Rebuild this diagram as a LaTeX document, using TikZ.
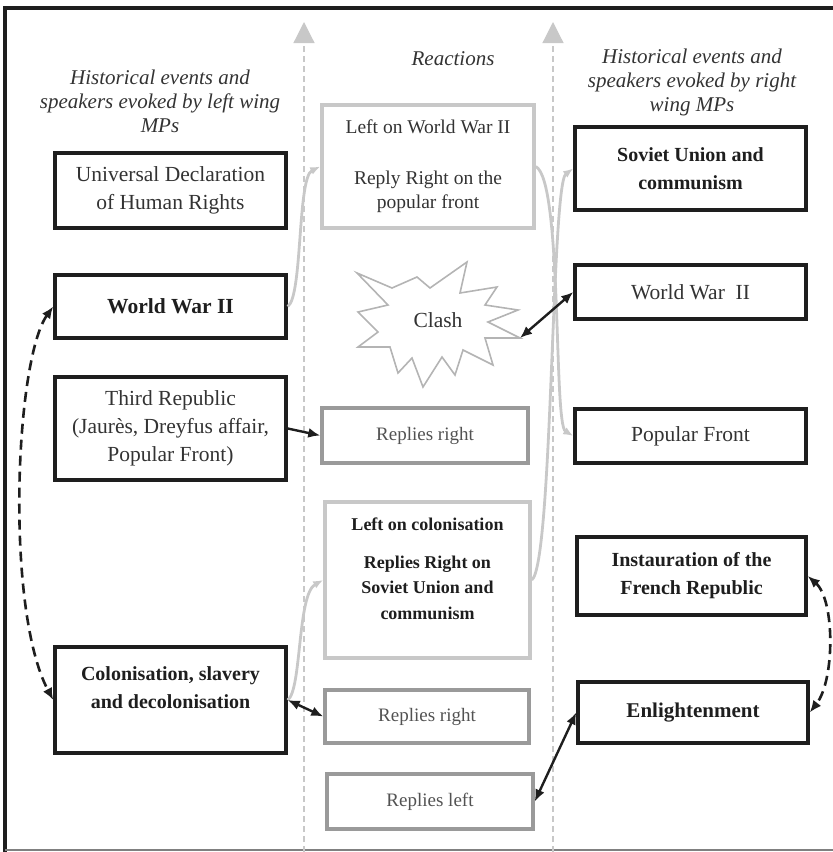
\documentclass[tikz,border=0pt]{standalone}
\usepackage{fontspec}
\setmainfont{Liberation Serif}
\usetikzlibrary{arrows.meta}
\definecolor{ink}{HTML}{1E1E1E}
\definecolor{paleline}{HTML}{C8C8C8}
\definecolor{midline}{HTML}{9A9A9A}
\definecolor{starline}{HTML}{B4B4B4}
\definecolor{bodytext}{HTML}{333333}
\newcommand\evfont{\fontsize{21.5}{28}\selectfont}
\newcommand\bdfont{\fontsize{20}{28}\selectfont\bfseries}
\newcommand\hdfont{\fontsize{21}{24}\selectfont\itshape}
\begin{document}
\begin{tikzpicture}[x=1pt,y=-1pt,
  evbox/.style={draw=ink,line width=3.5pt,inner sep=0pt,align=center,font=\evfont,text=bodytext},
  evbold/.style={evbox,font=\bdfont,text=ink},
  palebox/.style={draw=paleline,line width=3.5pt,inner sep=0pt,align=center,font=\evfont,text=bodytext},
  replybox/.style={draw=midline,line width=3.5pt,inner sep=0pt,align=center,
    font=\fontsize{19}{24}\selectfont,text=bodytext!85!white},
  heading/.style={align=center,font=\hdfont,text=bodytext},
  plain/.style={align=center,inner sep=0pt},
  axisline/.style={draw=paleline,line width=1.2pt,dash pattern=on 6pt off 4pt,
    -{Triangle[length=21pt,width=21pt,fill=paleline]}},
  greyflow/.style={draw=paleline,line width=2.8pt,-{Latex[length=10pt,width=8pt]}},
  link/.style={draw=ink,line width=2.4pt,{Latex[length=12pt,width=10pt]}-{Latex[length=12pt,width=10pt]}},
  onelink/.style={draw=ink,line width=2.4pt,-{Latex[length=12pt,width=10pt]}},
  echo/.style={draw=ink,line width=2.6pt,dash pattern=on 10pt off 6pt,
    {Latex[length=12pt,width=10pt]}-{Latex[length=12pt,width=10pt]}}]
\useasboundingbox (0,0) rectangle (833,852);

% outer frame
\draw[ink,line width=4pt] (5,852) -- (5,8) -- (833,8);
\draw[gray,line width=1.5pt] (5,850) -- (833,850);

% column separators
\coordinate (axLbot) at (304,852);
\coordinate (axLtop) at (304,22);
\coordinate (axRbot) at (553,852);
\coordinate (axRtop) at (553,22);
\draw[axisline] (axLbot) -- (axLtop);
\draw[axisline] (axRbot) -- (axRtop);

% column headings
\node[heading] (headL) at (160,101) {Historical events and\\speakers evoked by left wing\\MPs};
\node[heading] (headM) at (453,59) {Reactions};
\node[heading] (headR) at (692,82) {Historical events and\\speakers evoked by right\\wing MPs};

% left column
\node[evbox,minimum width=231pt,minimum height=75pt] (udhr) at (170.5,190.5)
  {Universal Declaration\\of Human Rights};
\node[evbold,minimum width=231pt,minimum height=63pt,font=\fontsize{21.5}{28}\selectfont\bfseries] (wwl) at (170.5,306.5) {World War II};
\node[evbox,minimum width=231pt,minimum height=103pt] (third) at (170.5,428.5)
  {Third Republic\\(Jaurès, Dreyfus affair,\\Popular Front)};
\node[evbox,minimum width=231pt,minimum height=106pt] (colon) at (170.5,700) {};
\node[plain,font=\bdfont,text=ink] (colontxt) at (170.5,688)
  {Colonisation, slavery\\and decolonisation};

% reactions column
\node[palebox,minimum width=212pt,minimum height=123pt,font=\fontsize{19.5}{24.5}\selectfont] (lww) at (428,166.5)
  {Left on World War II\\[26pt]Reply Right on the\\popular front};
\draw[starline,line width=1.6pt,line join=miter]
  (357,273) -- (392,288) -- (417,277) -- (430,288) -- (467,262) -- (460,293)
  -- (497,287) -- (485,305) -- (518,310) -- (488,322) -- (520,338) -- (485,338)
  -- (493,365) -- (463,350) -- (455,375) -- (442,357) -- (423,387) -- (412,358)
  -- (398,373) -- (390,347) -- (358,347) -- (378,332) -- (358,312) -- (388,305)
  -- cycle;
\node[plain,font=\evfont,text=bodytext] (clash) at (438,320) {Clash};
\coordinate (clashtip) at (520,338);
\node[replybox,minimum width=206pt,minimum height=55pt] (rep1) at (425,435.5) {Replies right};
\node[palebox,minimum width=205pt,minimum height=156pt] (lcol) at (427.5,580) {};
\node[plain,font=\fontsize{18}{25.5}\selectfont\bfseries,text=ink] (lcoltxt) at (427.5,569)
  {Left on colonisation\\[12pt]Replies Right on\\Soviet Union and\\communism};
\node[replybox,minimum width=204pt,minimum height=53pt] (rep2) at (427,716.5) {Replies right};
\node[replybox,minimum width=206pt,minimum height=55pt] (repl) at (430,801.5) {Replies left};

% right column
\node[evbold,minimum width=231pt,minimum height=83pt] (soviet) at (690.5,168.5)
  {Soviet Union and\\communism};
\node[evbox,minimum width=231pt,minimum height=54pt] (wwr) at (690.5,292) {World War~~II};
\node[evbox,minimum width=231pt,minimum height=54pt] (popf) at (690.5,436) {Popular Front};
\node[evbold,minimum width=229pt,minimum height=78pt] (inst) at (691.5,576)
  {Instauration of the\\French Republic};
\node[evbold,minimum width=230pt,minimum height=61pt,font=\fontsize{21}{28}\selectfont\bfseries] (enl) at (693,712.5) {Enlightenment};

% grey reaction flows
\draw[greyflow] (wwl.east) .. controls +(15,-10) and +(-23,11) .. (lww.west);
\draw[greyflow] (lww.east) .. controls +(27,14) and +(-20,-12) .. (popf.west);
\draw[greyflow] (lcol.east) .. controls +(21,-15) and +(-22,16) .. (soviet.west);
\draw[greyflow] (colon.east) .. controls +(14,-10) and +(-26,14) .. (lcol.west);

% direct replies
\draw[onelink] (third.east) -- (rep1.west);
\draw[link] (clashtip) -- (wwr.west);
\draw[link] (colon.east) -- (rep2.west);
\draw[link] (repl.east) -- (enl.west);

% echoes within a side
\draw[echo] (wwl.west) .. controls (15,360) and (5,610) .. (colon.west);
\draw[echo] (inst.east) .. controls (835,600) and (835,680) .. (enl.east);
\end{tikzpicture}
\end{document}
